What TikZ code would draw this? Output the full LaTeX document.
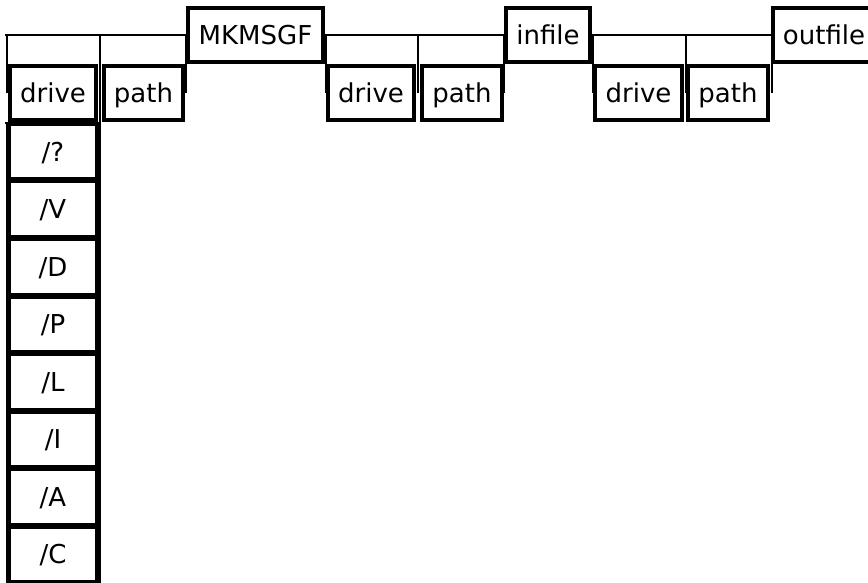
\documentclass[tikz,border=0pt]{standalone}
\usepackage{fontspec}
\setmainfont{DejaVu Sans}
\begin{document}
\begin{tikzpicture}[x=1pt,y=-1pt,
  box/.style={draw,line width=3.5pt,font=\fontsize{26}{30}\selectfont,minimum height=54pt,inner sep=0pt,text height=19pt,text depth=0pt},
  optbox/.style={box,minimum width=88pt,minimum height=55pt},
  rail/.style={line width=1.8pt}]
\useasboundingbox (0,0) rectangle (868,583);
\clip (0,0) rectangle (868,583);
% main boxes
\node[box,minimum width=135pt] (mk) at (255.5,35) {MKMSGF};
\node[box,minimum width=84pt] (inf) at (548,35) {infile};
\node[box,minimum width=102pt] (outf) at (824,35) {outfile};
% optional drive / path boxes
\node[box,minimum width=86pt] (d1) at (53,93) {drive};
\node[box,minimum width=79pt] (p1) at (143.5,93) {path};
\node[box,minimum width=86pt] (d2) at (371,93) {drive};
\node[box,minimum width=80pt] (p2) at (462,93) {path};
\node[box,minimum width=87pt] (d3) at (638.5,93) {drive};
\node[box,minimum width=80pt] (p3) at (728,93) {path};
% option column
\foreach \t [count=\i from 0] in {?,V,D,P,L,I,A,C}
  \node[optbox] (o\i) at (53,{151.75+57.5*\i}) {/\t};
% rail coordinates
\coordinate (start) at (5,35);
\foreach \n/\x in {1/7,2/100,3/186,4/326,5/418,6/504,7/593,8/686,9/772}{
  \coordinate (vtop\n) at (\x,35);
  \coordinate (vbot\n) at (\x,93);
}
\coordinate (colR) at (100,123);
\coordinate (colL) at (5,123);
\coordinate (colLtop) at (7,123);
\coordinate (colLend) at (7,583);
\coordinate (colRend) at (100,583);
% rails
\draw[rail] (start) -- (mk.west);
\draw[rail] (mk.east) -- (inf.west);
\draw[rail] (inf.east) -- (outf.west);
\foreach \n in {1,3,4,5,6,7,8,9}
  \draw[rail] (vtop\n) -- (vbot\n);
\draw[rail] (vtop2) -- (colR);
\draw[rail] (colL) -- (colR);
\draw[rail] (colLtop) -- (colLend);
\draw[rail] (colR) -- (colRend);
\end{tikzpicture}
\end{document}
